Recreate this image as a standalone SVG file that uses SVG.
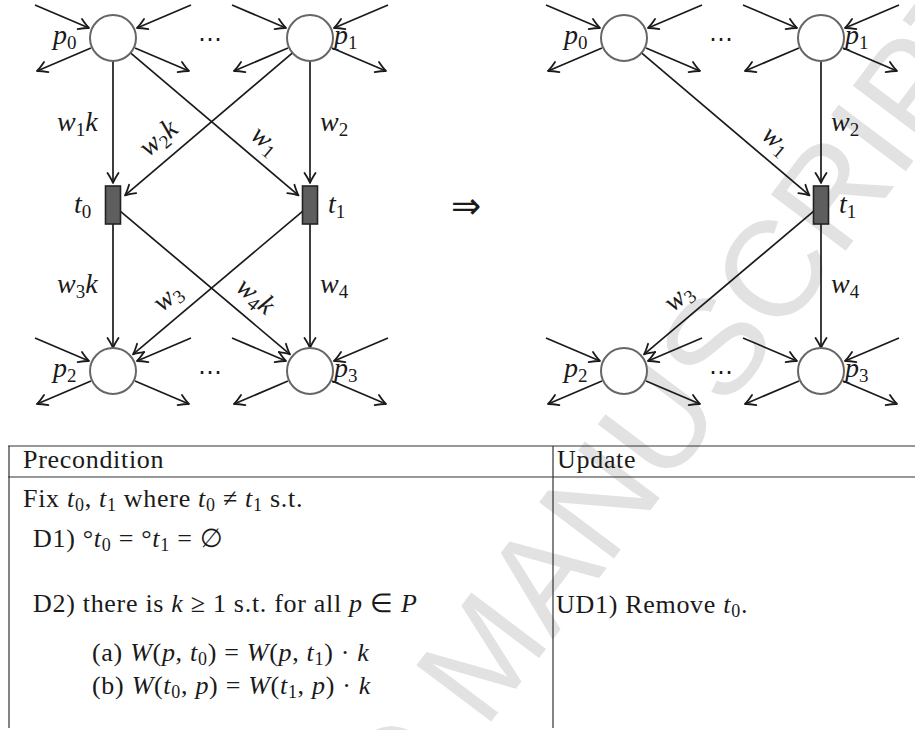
<svg xmlns="http://www.w3.org/2000/svg" width="915" height="730" viewBox="0 0 915 730">
<style>
.wm{font-family:"Liberation Sans",Arial,sans-serif;font-size:136px;fill:#e2e2e2}
.place{fill:#fff;stroke:#666;stroke-width:2}
.trans{fill:#5e5e5e;stroke:#222;stroke-width:1.6}
.arc{fill:none;stroke:#1a1a1a;stroke-width:1.7;marker-end:url(#ah)}
.grid{fill:none;stroke:#333;stroke-width:1.2}
.lbl{font-family:"Liberation Serif","Times New Roman",serif;font-size:28px;fill:#1a1a1a}
.i{font-style:italic}
.s{font-size:19px}
.dots{font-family:"DejaVu Sans",sans-serif;font-size:24px;fill:#1a1a1a;text-anchor:middle}
.tx{font-family:"Liberation Serif","Times New Roman",serif;font-size:26px;letter-spacing:0.7px;fill:#1a1a1a}
.ts{font-size:18px}
</style>
<defs>
<marker id="ah" markerUnits="userSpaceOnUse" markerWidth="24" markerHeight="24" viewBox="-12 -12 24 24" refX="0" refY="0" orient="auto">
<path d="M-10,-5.5 Q-3.5,-1.3 0,0 Q-3.5,1.3 -10,5.5" fill="none" stroke="#1a1a1a" stroke-width="1.8" stroke-linecap="round" stroke-linejoin="round"/>
</marker>
</defs>

<text class="wm" transform="translate(16,1352) rotate(-53)">ACCEPTED MANUSCRIPT</text>

<g id="connectors">
<path class="arc" d="M113,61 L113,183"/>
<path class="arc" d="M310,61 L310,183"/>
<path class="arc" d="M130.5,52.9 L298.5,195.4"/>
<path class="arc" d="M292.5,52.9 L125,195.4"/>
<path class="arc" d="M113,224 L113,348"/>
<path class="arc" d="M310,224 L310,348"/>
<path class="arc" d="M120.5,211.3 L290,354.4"/>
<path class="arc" d="M302.5,211.3 L133,354.4"/>
<path class="arc" d="M35,5 L89,28"/><path class="arc" d="M191,5 L137,28"/><path class="arc" d="M91,48 L37,71"/><path class="arc" d="M135,48 L189,71"/>
<path class="arc" d="M232,5 L286,28"/><path class="arc" d="M388,5 L334,28"/><path class="arc" d="M288,48 L234,71"/><path class="arc" d="M332,48 L386,71"/>
<path class="arc" d="M35,338 L89,361"/><path class="arc" d="M191,338 L137,361"/><path class="arc" d="M91,381 L37,404"/><path class="arc" d="M135,381 L189,404"/>
<path class="arc" d="M232,338 L286,361"/><path class="arc" d="M388,338 L334,361"/><path class="arc" d="M288,381 L234,404"/><path class="arc" d="M332,381 L386,404"/>
<path class="arc" d="M641.5,52.9 L809.5,195.4"/>
<path class="arc" d="M821,61 L821,183"/>
<path class="arc" d="M813.5,211.3 L644,354.4"/>
<path class="arc" d="M821,224 L821,348"/>
<path class="arc" d="M546,5 L600,28"/><path class="arc" d="M702,5 L648,28"/><path class="arc" d="M602,48 L548,71"/><path class="arc" d="M646,48 L700,71"/>
<path class="arc" d="M743,5 L797,28"/><path class="arc" d="M899,5 L845,28"/><path class="arc" d="M799,48 L745,71"/><path class="arc" d="M843,48 L897,71"/>
<path class="arc" d="M546,338 L600,361"/><path class="arc" d="M702,338 L648,361"/><path class="arc" d="M602,381 L548,404"/><path class="arc" d="M646,381 L700,404"/>
<path class="arc" d="M743,338 L797,361"/><path class="arc" d="M899,338 L845,361"/><path class="arc" d="M799,381 L745,404"/><path class="arc" d="M843,381 L897,404"/>
</g>

<g id="arc-labels">
<text class="lbl" x="57" y="131"><tspan class="i">w</tspan><tspan class="s" dy="5">1</tspan><tspan class="i" dy="-5">k</tspan></text>
<text class="lbl" x="320" y="131"><tspan class="i">w</tspan><tspan class="s" dy="5">2</tspan></text>
<text class="lbl" text-anchor="middle" transform="translate(160,140) rotate(-40)" y="6"><tspan class="i">w</tspan><tspan class="s" dy="5">2</tspan><tspan class="i" dy="-5">k</tspan></text>
<text class="lbl" text-anchor="middle" transform="translate(264,142) rotate(40)" y="6"><tspan class="i">w</tspan><tspan class="s" dy="5">1</tspan></text>
<text class="lbl" x="57" y="293"><tspan class="i">w</tspan><tspan class="s" dy="5">3</tspan><tspan class="i" dy="-5">k</tspan></text>
<text class="lbl" x="320" y="293"><tspan class="i">w</tspan><tspan class="s" dy="5">4</tspan></text>
<text class="lbl" text-anchor="middle" transform="translate(169,299) rotate(-40)" y="6"><tspan class="i">w</tspan><tspan class="s" dy="5">3</tspan></text>
<text class="lbl" text-anchor="middle" transform="translate(254,298) rotate(40)" y="6"><tspan class="i">w</tspan><tspan class="s" dy="5">4</tspan><tspan class="i" dy="-5">k</tspan></text>
<text class="lbl" text-anchor="middle" transform="translate(775,142) rotate(40)" y="6"><tspan class="i">w</tspan><tspan class="s" dy="5">1</tspan></text>
<text class="lbl" x="831" y="131"><tspan class="i">w</tspan><tspan class="s" dy="5">2</tspan></text>
<text class="lbl" text-anchor="middle" transform="translate(680,299) rotate(-40)" y="6"><tspan class="i">w</tspan><tspan class="s" dy="5">3</tspan></text>
<text class="lbl" x="831" y="293"><tspan class="i">w</tspan><tspan class="s" dy="5">4</tspan></text>
</g>

<g id="L-p0"><circle class="place" cx="113" cy="38" r="23"/><text class="lbl" x="53" y="44"><tspan class="i">p</tspan><tspan class="s" dy="5">0</tspan></text></g>
<g id="L-p1"><circle class="place" cx="310" cy="38" r="23"/><text class="lbl" x="334" y="44"><tspan class="i">p</tspan><tspan class="s" dy="5">1</tspan></text></g>
<g id="L-p2"><circle class="place" cx="113" cy="371" r="23"/><text class="lbl" x="53" y="377"><tspan class="i">p</tspan><tspan class="s" dy="5">2</tspan></text></g>
<g id="L-p3"><circle class="place" cx="310" cy="371" r="23"/><text class="lbl" x="334" y="377"><tspan class="i">p</tspan><tspan class="s" dy="5">3</tspan></text></g>
<g id="L-t0"><rect class="trans" x="105.5" y="186" width="15" height="38"/><text class="lbl" x="74" y="213"><tspan class="i">t</tspan><tspan class="s" dy="5">0</tspan></text></g>
<g id="L-t1"><rect class="trans" x="302.5" y="186" width="15" height="38"/><text class="lbl" x="328" y="213"><tspan class="i">t</tspan><tspan class="s" dy="5">1</tspan></text></g>
<g id="L-dots"><text class="dots" x="210" y="47">⋯</text><text class="dots" x="210" y="380">⋯</text></g>

<g id="implies"><text x="466" y="218" font-family="DejaVu Sans, sans-serif" font-size="36" text-anchor="middle" fill="#1a1a1a">⇒</text></g>

<g id="R-p0"><circle class="place" cx="624" cy="38" r="23"/><text class="lbl" x="564" y="44"><tspan class="i">p</tspan><tspan class="s" dy="5">0</tspan></text></g>
<g id="R-p1"><circle class="place" cx="821" cy="38" r="23"/><text class="lbl" x="845" y="44"><tspan class="i">p</tspan><tspan class="s" dy="5">1</tspan></text></g>
<g id="R-p2"><circle class="place" cx="624" cy="371" r="23"/><text class="lbl" x="564" y="377"><tspan class="i">p</tspan><tspan class="s" dy="5">2</tspan></text></g>
<g id="R-p3"><circle class="place" cx="821" cy="371" r="23"/><text class="lbl" x="845" y="377"><tspan class="i">p</tspan><tspan class="s" dy="5">3</tspan></text></g>
<g id="R-t1"><rect class="trans" x="813.5" y="186" width="15" height="38"/><text class="lbl" x="839" y="213"><tspan class="i">t</tspan><tspan class="s" dy="5">1</tspan></text></g>
<g id="R-dots"><text class="dots" x="721" y="47">⋯</text><text class="dots" x="721" y="380">⋯</text></g>

<g id="table">
<path class="grid" d="M8,446 H915 M8,477 H915 M9,446 V728 M553,446 V728"/>
<text class="tx" x="23" y="468">Precondition</text>
<text class="tx" x="557" y="468">Update</text>
<text class="tx" x="23" y="507">Fix <tspan class="i">t</tspan><tspan class="ts" dy="4">0</tspan><tspan dy="-4">, </tspan><tspan class="i">t</tspan><tspan class="ts" dy="4">1</tspan><tspan dy="-4"> where </tspan><tspan class="i">t</tspan><tspan class="ts" dy="4">0</tspan><tspan dy="-4"> ≠ </tspan><tspan class="i">t</tspan><tspan class="ts" dy="4">1</tspan><tspan dy="-4"> s.t.</tspan></text>
<text class="tx" x="33" y="547">D1)  °<tspan class="i">t</tspan><tspan class="ts" dy="4">0</tspan><tspan dy="-4"> = °</tspan><tspan class="i">t</tspan><tspan class="ts" dy="4">1</tspan><tspan dy="-4"> = ∅</tspan></text>
<text class="tx" x="33" y="612">D2)  there is <tspan class="i">k</tspan> ≥ 1 s.t.  for all <tspan class="i">p</tspan> ∈ <tspan class="i">P</tspan></text>
<text class="tx" x="92" y="661">(a)  <tspan class="i">W</tspan>(<tspan class="i">p</tspan>, <tspan class="i">t</tspan><tspan class="ts" dy="4">0</tspan><tspan dy="-4">) = </tspan><tspan class="i">W</tspan>(<tspan class="i">p</tspan>, <tspan class="i">t</tspan><tspan class="ts" dy="4">1</tspan><tspan dy="-4">) · </tspan><tspan class="i">k</tspan></text>
<text class="tx" x="92" y="694">(b)  <tspan class="i">W</tspan>(<tspan class="i">t</tspan><tspan class="ts" dy="4">0</tspan><tspan dy="-4">, </tspan><tspan class="i">p</tspan>) = <tspan class="i">W</tspan>(<tspan class="i">t</tspan><tspan class="ts" dy="4">1</tspan><tspan dy="-4">, </tspan><tspan class="i">p</tspan>) · <tspan class="i">k</tspan></text>
<text class="tx" x="556" y="613">UD1)  Remove <tspan class="i">t</tspan><tspan class="ts" dy="4">0</tspan><tspan dy="-4">.</tspan></text>
</g>
</svg>
